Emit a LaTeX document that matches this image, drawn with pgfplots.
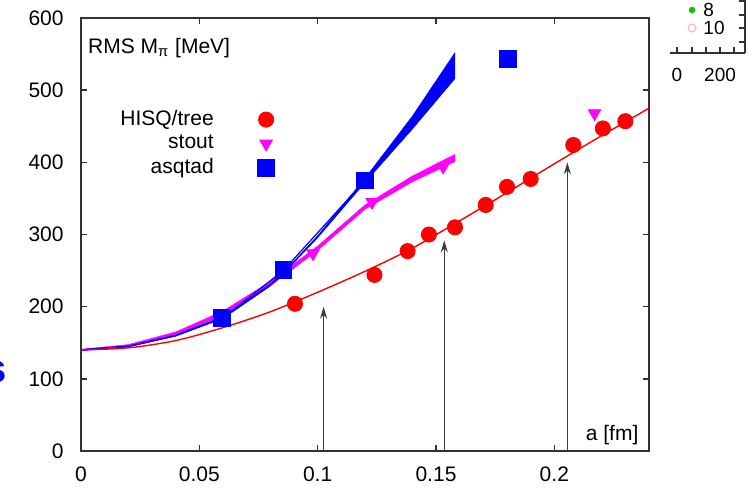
\documentclass[border=0pt]{standalone}
\usepackage{fontspec}
\setmainfont{Liberation Sans}
\usepackage{pgfplots}
\pgfplotsset{compat=1.18}
\usetikzlibrary{arrows.meta}
\definecolor{axgray}{RGB}{50,50,50}
\definecolor{arrgray}{RGB}{60,60,60}
\definecolor{mag}{RGB}{255,0,255}
\definecolor{dgreen}{RGB}{0,200,0}
\definecolor{lpink}{RGB}{235,170,235}
\begin{document}
\fontsize{10.5}{12}\selectfont
\begin{tikzpicture}
\useasboundingbox (-40.5pt,-18.5pt) rectangle (336pt,225.5pt);
\begin{axis}[
 at={(0pt,0pt)}, anchor=south west,
 scale only axis, width=284pt, height=216.5pt,
 xmin=0, xmax=0.24, ymin=0, ymax=600,
 xtick={0,0.05,0.1,0.15,0.2}, xticklabels={0,0.05,0.1,0.15,0.2},
 ytick={0,100,...,600},
 tick align=inside, major tick length=3pt,
 axis line style={draw=axgray, line width=0.7pt},
 every tick/.style={axgray, line width=0.7pt},
 /pgf/number format/assume math mode=true,
 ticklabel style={font=\fontsize{10.5}{12}\selectfont},
 yticklabel style={xshift=-5pt},
 xticklabel style={yshift=-4pt},
 legend style={draw=none, fill=none, at={(0.352,0.806)}, anchor=north east,
   cells={anchor=east}, column sep=20pt, row sep=-0.7pt, font=\fontsize{10.5}{12}\selectfont},
 legend plot pos=right,
]
% stout band
\addplot[fill=mag, draw=mag, line width=0.2pt, forget plot] coordinates {
 (0,141) (0.02,147.5) (0.04,165) (0.06,194) (0.08,235) (0.10,284) (0.12,341) (0.14,381) (0.158,411)
 (0.158,401) (0.14,373) (0.12,335) (0.10,278) (0.08,229) (0.06,188) (0.04,161) (0.02,144.5) (0,139)
} -- cycle;
% asqtad band
\addplot[fill=blue, draw=blue, line width=0.2pt, forget plot] coordinates {
 (0,140.8) (0.02,145.8) (0.04,161) (0.06,186.5) (0.08,231.5) (0.09,263) (0.10,298.5) (0.12,378) (0.14,464) (0.158,552)
 (0.158,516) (0.14,446) (0.12,372) (0.10,295.5) (0.09,261) (0.08,228.5) (0.06,183.5) (0.04,159) (0.02,144.2) (0,139.2)
} -- cycle;
\addplot[blue, line width=0.6pt, forget plot] coordinates {
 (0,140) (0.02,145) (0.04,160) (0.06,185) (0.0855,250) (0.12,375)
};
% HISQ fit
\addplot[red, line width=0.7pt, smooth, forget plot] coordinates {
 (0,140) (0.02,143) (0.04,153) (0.06,171) (0.08,193) (0.10,220) (0.12,249) (0.14,281)
 (0.16,319) (0.18,358) (0.20,398) (0.22,437) (0.24,475)
};
% arrows
\addplot[arrgray, line width=0.7pt, -{Stealth[length=6pt,width=3.5pt]}, forget plot] coordinates {(0.1025,0) (0.1025,200)};
\addplot[arrgray, line width=0.7pt, -{Stealth[length=6pt,width=3.5pt]}, forget plot] coordinates {(0.1535,0) (0.1535,292)};
\addplot[arrgray, line width=0.7pt, -{Stealth[length=6pt,width=3.5pt]}, forget plot] coordinates {(0.2055,0) (0.2055,400)};
% data
\addplot[only marks, mark=*, mark size=3.8pt, red, mark options={draw=red, fill=red}] coordinates {
 (0.0904,204) (0.124,244) (0.138,277) (0.147,300) (0.158,310) (0.171,341) (0.180,366)
 (0.190,377) (0.208,424) (0.2205,447) (0.230,457)
};
\addlegendentry{HISQ/tree}
\addplot[only marks, mark=triangle*, mark size=3.6pt, mag, mark options={rotate=180, draw=mag, fill=mag}] coordinates {
 (0.098,274) (0.123,345) (0.153,394) (0.217,468)
};
\addlegendentry{stout}
\addplot[only marks, mark=square*, mark size=4.2pt, blue, mark options={draw=blue, fill=blue}] coordinates {
 (0.0596,185) (0.0855,251) (0.120,375) (0.1805,543)
};
\addlegendentry{asqtad}
\node[anchor=base west, inner sep=0pt] at (rel axis cs:0.012,0.919) {RMS M\textsubscript{π} [MeV]};
\node[anchor=base east, inner sep=0pt] at (rel axis cs:0.982,0.025) {a [fm]};
\end{axis}
% fragment of neighbouring inset
\begin{axis}[
 at={(332pt,199pt)}, anchor=south east,
 scale only axis, width=37.5pt, height=30pt,
 xmin=-32.6, xmax=316, ymin=0, ymax=60,
 axis x line*=bottom, axis y line*=right,
 xtick={0,70,135,200,265}, xticklabels={0,,,200,},
 ytick={11,25,38,52}, yticklabels={},
 tick align=inside, major tick length=3pt,
 axis line style={draw=axgray, line width=0.7pt},
 every tick/.style={axgray, line width=0.7pt},
 ticklabel style={font=\fontsize{9.5}{11}\selectfont},
 xticklabel style={yshift=-4pt},
 clip=false,
]
\addplot[only marks, mark=*, mark size=1.4pt, dgreen] coordinates {(70,43)};
\addplot[only marks, mark=o, mark size=2pt, lpink, line width=0.5pt] coordinates {(70,25)};
\node[anchor=west, inner sep=0pt, font=\fontsize{9.5}{11}\selectfont] at (axis cs:121,43) {8};
\node[anchor=west, inner sep=0pt, font=\fontsize{9.5}{11}\selectfont] at (axis cs:121,25) {10};
\end{axis}
\node[anchor=east, inner sep=0pt, text=blue, font=\bfseries\fontsize{20}{20}\selectfont] at (-37pt,39.5pt) {s};
\end{tikzpicture}
\end{document}
